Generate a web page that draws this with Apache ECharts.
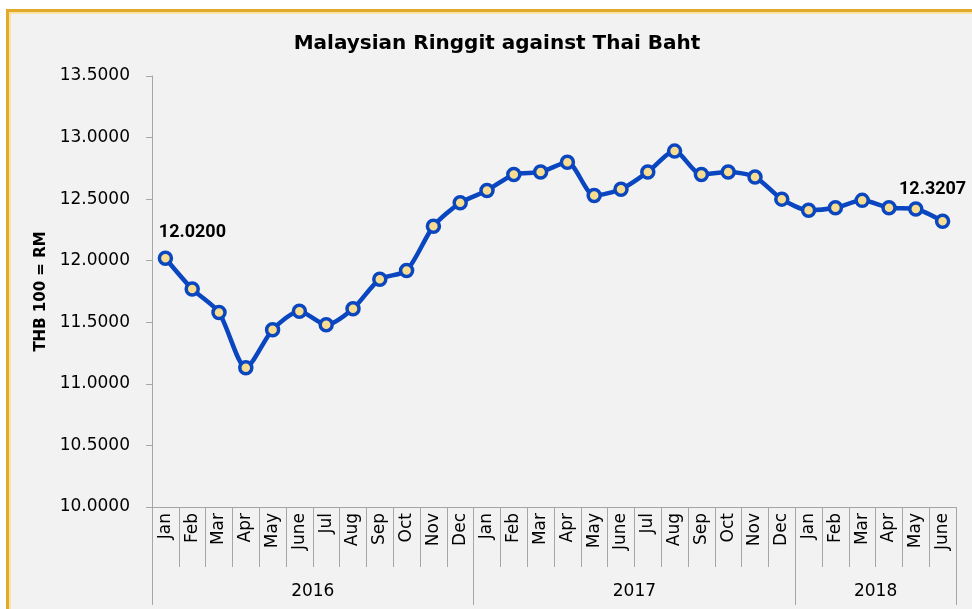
<!DOCTYPE html>
<html>
<head>
<meta charset="utf-8">
<script src="https://cdn.jsdelivr.net/npm/echarts@6/dist/echarts.min.js"></script>
<style>
  html, body { margin: 0; padding: 0; background: #fff; }
  #main { width: 972px; height: 609px; }
</style>
</head>
<body>
<div id="main"></div>
<script>
// 月份 / 年份 / 汇率数据
const months = ["Jan", "Feb", "Mar", "Apr", "May", "June", "Jul", "Aug", "Sep", "Oct", "Nov", "Dec",
  "Jan", "Feb", "Mar", "Apr", "May", "June", "Jul", "Aug", "Sep", "Oct", "Nov", "Dec",
  "Jan", "Feb", "Mar", "Apr", "May", "June"];
const years = ["2016", "2017", "2018"];
const yearBounds = [0, 12, 24, 30];
const yearCenters = [6, 18, 27];
const rates = [12.02, 11.77, 11.58, 11.13, 11.44, 11.59, 11.48, 11.61, 11.85, 11.92, 12.28, 12.47,
  12.57, 12.70, 12.72, 12.80, 12.53, 12.58, 12.72, 12.89, 12.70, 12.72, 12.68, 12.50,
  12.41, 12.43, 12.49, 12.43, 12.42, 12.3207];
const yTicks = [10, 10.5, 11, 11.5, 12, 12.5, 13, 13.5];

const chart = echarts.init(document.getElementById("main"));

const seriesData = rates.map(function (v, i) {
  const item = { value: v };
  if (i === 0) {
    item.label = { show: true, offset: [27, -4] };
  }
  if (i === rates.length - 1) {
    item.label = { show: true, offset: [-10, -10] };
  }
  return item;
});

chart.setOption({
  backgroundColor: "#ffffff",
  graphic: [
    {
      type: "rect",
      z: -10,
      shape: { x: 7.5, y: 10.5, width: 1000, height: 700 },
      style: { fill: "#f2f2f2", stroke: "#e0aa2a", lineWidth: 3 },
    },
    {
      type: "rect",
      z: -9,
      shape: { x: 10, y: 13, width: 1000, height: 700 },
      style: { fill: "none", stroke: "#fbe2a6", lineWidth: 2 },
    },
  ],
  title: {
    text: "Malaysian Ringgit against Thai Baht",
    left: 492,
    top: 29,
    textAlign: "center",
    textStyle: {
      fontFamily: "DejaVu Sans",
      fontWeight: "bold",
      fontSize: 20,
      color: "#000",
    },
  },
  grid: {
    left: 152,
    right: 16,
    top: 76,
    bottom: 102,
    containLabel: false,
  },
  xAxis: [
    {
      type: "category",
      data: months,
      boundaryGap: true,
      axisLine: { show: true, lineStyle: { color: "#a6a6a6", width: 1 } },
      axisTick: {
        show: true,
        interval: 0,
        length: 60,
        lineStyle: { color: "#a6a6a6" },
      },
      axisLabel: {
        interval: 0,
        rotate: 90,
        margin: 6,
        fontFamily: "DejaVu Sans",
        fontSize: 17,
        color: "#000",
      },
    },
    {
      // 年份轴
      type: "value",
      position: "bottom",
      min: 0,
      max: 30,
      axisLine: { show: false },
      splitLine: { show: false },
      axisTick: {
        show: true,
        length: 98,
        customValues: yearBounds,
        lineStyle: { color: "#a6a6a6" },
      },
      axisLabel: {
        show: true,
        margin: 76,
        customValues: yearCenters,
        formatter: function (value) {
          return years[yearCenters.indexOf(value)];
        },
        fontFamily: "DejaVu Sans",
        fontSize: 17,
        color: "#000",
      },
    },
  ],
  yAxis: {
    type: "value",
    min: yTicks[0],
    max: yTicks[yTicks.length - 1],
    interval: 0.5,
    name: "THB 100 = RM",
    nameLocation: "middle",
    nameRotate: 90,
    nameGap: 95,
    nameTextStyle: {
      fontFamily: "DejaVu Sans",
      fontWeight: "bold",
      fontSize: 15,
      color: "#000",
    },
    axisLine: { show: true, lineStyle: { color: "#a6a6a6" } },
    axisTick: { show: true, length: 6, lineStyle: { color: "#a6a6a6" } },
    splitLine: { show: false },
    axisLabel: {
      margin: 22,
      fontFamily: "DejaVu Sans",
      fontSize: 17,
      color: "#000",
      formatter: function (v) {
        return v.toFixed(4);
      },
    },
  },
  series: [
    {
      type: "line",
      data: seriesData,
      smooth: 0.25,
      symbol: "circle",
      symbolSize: 12,
      lineStyle: { color: "#0a46c0", width: 4.5 },
      itemStyle: { color: "#f8dc90", borderColor: "#0a46c0", borderWidth: 3.5 },
      label: {
        show: false,
        position: "top",
        fontFamily: "Roboto",
        fontWeight: "bold",
        fontSize: 18,
        color: "#000",
        formatter: function (p) {
          return p.value.toFixed(4);
        },
      },
    },
  ],
});
</script>
</body>
</html>
